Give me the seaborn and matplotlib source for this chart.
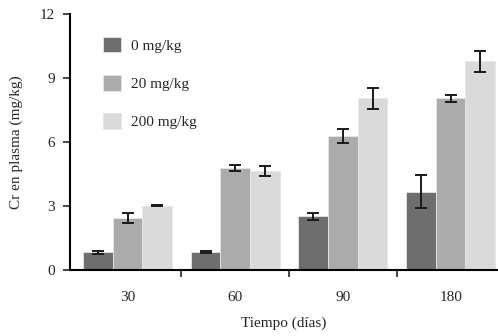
import matplotlib
matplotlib.use("Agg")
import matplotlib.pyplot as plt
from matplotlib.ticker import FixedLocator
import pandas as pd
import seaborn as sns

# data
days = ["30", "60", "90", "180"]
doses = ["0 mg/kg", "20 mg/kg", "200 mg/kg"]
mean_0 = [0.85, 0.85, 2.52, 3.68]
mean_20 = [2.45, 4.80, 6.30, 8.05]
mean_200 = [3.02, 4.65, 8.05, 9.78]
err_0 = [0.07, 0.03, 0.17, 0.78]
err_20 = [0.22, 0.15, 0.32, 0.15]
err_200 = [0.03, 0.22, 0.50, 0.50]
colors = ["#6e6e6e", "#ababab", "#dadada"]

df = pd.DataFrame({
    "day": days * 3,
    "dose": [d for d in doses for _ in days],
    "value": mean_0 + mean_20 + mean_200,
})
errs = [err_0, err_20, err_200]

sns.set_style("white")
plt.rcParams["font.family"] = ["Liberation Serif", "DejaVu Serif"]
plt.rcParams["font.size"] = 11

fig = plt.figure(figsize=(4.98, 3.36), dpi=100)
ax = fig.add_axes([0.1406, 0.196, 0.8594, 0.762])

sns.barplot(data=df, x="day", y="value", hue="dose", order=days, hue_order=doses,
            palette=colors, width=0.826, errorbar=None, saturation=1,
            edgecolor="#e6e6e6", linewidth=0.6, ax=ax)

# error bars on top of each bar
for cont, e in zip(ax.containers, errs):
    xs = [b.get_x() + b.get_width() / 2 for b in cont]
    ys = [b.get_height() for b in cont]
    ax.errorbar(xs, ys, yerr=e, fmt="none", ecolor="#1a1a1a", elinewidth=1.4,
                capsize=4.5, capthick=1.4)

ax.set_xlim(-0.534, 3.44)
ax.set_ylim(0, 12)
ax.set_yticks([0, 3, 6, 9, 12])
ax.xaxis.set_minor_locator(FixedLocator([0.5, 1.5, 2.5]))
ax.tick_params(axis="x", which="major", length=0, pad=15)
ax.tick_params(axis="x", which="minor", length=5, width=1.2, direction="out", bottom=True)
ax.tick_params(axis="y", length=5, width=1.2, direction="out", left=True, pad=6)
sns.despine(ax=ax)
for s in ["left", "bottom"]:
    ax.spines[s].set_color("black")
    ax.spines[s].set_linewidth(1.5)

ax.set_xlabel("Tiempo (días)", labelpad=9)
ax.set_ylabel("Cr en plasma (mg/kg)", labelpad=12)

ax.legend(loc="upper left", bbox_to_anchor=(0.045, 0.965), frameon=False,
          handlelength=1.2, handleheight=1.2, labelspacing=1.45, handletextpad=0.6)

fig.savefig("out.png", dpi=100)
